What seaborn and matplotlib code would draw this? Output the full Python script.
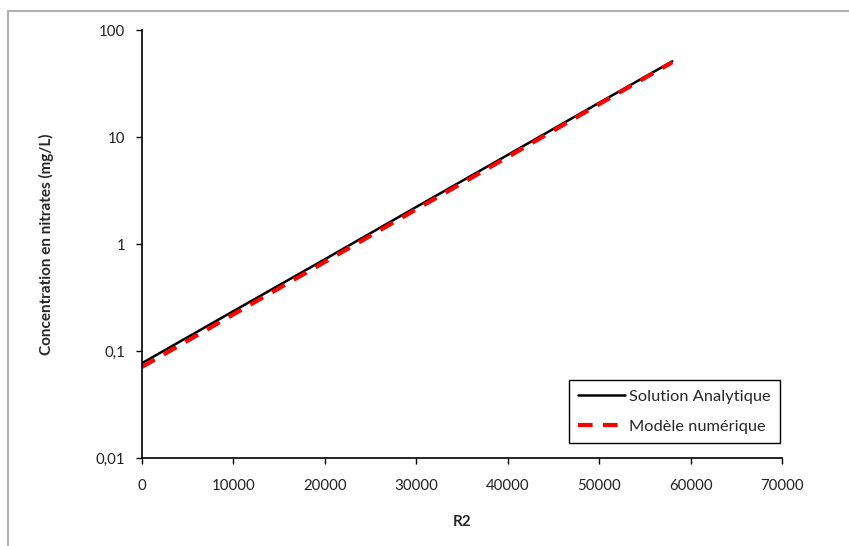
import numpy as np
import pandas as pd
import matplotlib
matplotlib.use("Agg")
import matplotlib.pyplot as plt
from matplotlib.ticker import FixedLocator, FuncFormatter, NullLocator
from matplotlib.lines import Line2D
import seaborn as sns

# values (log-linear growth)
r2_values = [0, 10000, 20000, 30000, 40000, 50000, 58000]
conc_analytique = [0.077, 0.236, 0.72, 2.22, 6.8, 20.9, 51.0]
conc_numerique = [0.071, 0.22, 0.68, 2.11, 6.5, 20.3, 50.0]

y_ticks = [0.01, 0.1, 1, 10, 100]
x_ticks = [0, 10000, 20000, 30000, 40000, 50000, 60000, 70000]

sns.set_theme(style="white")
plt.rcParams['font.family'] = ['Lato', 'DejaVu Sans']

df = pd.DataFrame({
    "R2": r2_values * 2,
    "conc": conc_analytique + conc_numerique,
    "serie": ["Solution Analytique"] * len(r2_values) + ["Modèle numérique"] * len(r2_values),
})

fig = plt.figure(figsize=(8.49, 5.46), dpi=100)
ax = fig.add_axes([0.1673, 0.1612, 0.7538, 0.7838])

sns.lineplot(data=df[df.serie == "Solution Analytique"], x="R2", y="conc",
             color="black", linewidth=1.8, ax=ax, label="Solution Analytique")
sns.lineplot(data=df[df.serie == "Modèle numérique"], x="R2", y="conc",
             color="#ff0000", linewidth=3, dashes=False, ax=ax, label="Modèle numérique")
ax.lines[1].set_dashes((3.5, 2.5))

ax.set_yscale("log")
ax.set_xlim(0, 70000)
ax.set_ylim(0.01, 100)
ax.yaxis.set_major_locator(FixedLocator(y_ticks))
ax.yaxis.set_minor_locator(NullLocator())
ax.yaxis.set_major_formatter(FuncFormatter(lambda v, p: f"{v:g}".replace(".", ",")))
ax.set_xticks(x_ticks)
ax.set_xticklabels([str(t) for t in x_ticks])

for s in ["top", "right"]:
    ax.spines[s].set_visible(False)
for s in ["left", "bottom"]:
    ax.spines[s].set_color("black")
    ax.spines[s].set_linewidth(1.2)

ax.tick_params(axis="both", which="major", direction="out", length=4, width=1,
               color="black", labelsize=10.8, labelcolor="#222222", bottom=True, left=True)
ax.tick_params(axis="x", pad=11)
ax.tick_params(axis="y", pad=8)

ax.set_xlabel("R2", fontsize=11, fontweight="bold", labelpad=16)
ax.set_ylabel("Concentration en nitrates (mg/L)", fontsize=11, fontweight="bold", labelpad=30)

handles = [Line2D([], [], color="black", linewidth=1.8),
           Line2D([], [], color="#ff0000", linewidth=3, dashes=(3.5, 2.5))]
leg = ax.legend(handles, ["Solution Analytique", "Modèle numérique"],
                loc="lower right", bbox_to_anchor=(0.997, 0.035), fontsize=11.8,
                frameon=True, fancybox=False, edgecolor="black", framealpha=1,
                handlelength=2.9, labelspacing=0.95, borderpad=0.55, handletextpad=0.25,
                borderaxespad=0)
leg.get_frame().set_linewidth(1.0)

# outer chart frame (left and top edges visible in the reference)
fig.add_artist(Line2D([8 / 849, 8 / 849], [0, 1 - 11 / 546], transform=fig.transFigure,
                      color="#b0b0b0", linewidth=1.5))
fig.add_artist(Line2D([8 / 849, 1], [1 - 11 / 546, 1 - 11 / 546], transform=fig.transFigure,
                      color="#b0b0b0", linewidth=1.5))

fig.savefig("out.png", dpi=100)
